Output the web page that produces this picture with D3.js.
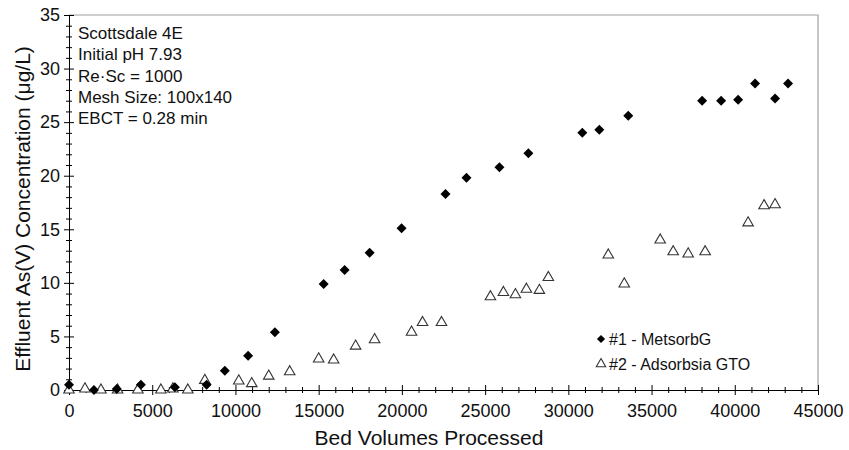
<!DOCTYPE html>
<html>
<head>
<meta charset="utf-8">
<script src="https://cdn.jsdelivr.net/npm/d3@7"></script>
<style>
  body { margin: 0; background: #fff; }
  svg { font-family: "Liberation Sans", Arial, sans-serif; }
  .axis path, .axis line { stroke: #000; }
  .axis text { font-size: 18px; fill: #111; }
</style>
</head>
<body>
<svg id="chart" width="849" height="450"></svg>
<script>
// MetsorbG (#1)
const metsorbX = [0, 1500, 2870, 4320, 6360, 8270, 9360, 10760, 12370, 15300, 16560, 18060, 19980, 22620, 23880, 25860, 27600, 30840, 31860, 33600, 38040, 39180, 40200, 41220, 42420, 43200];
const metsorbY = [0.5, 0.0, 0.1, 0.5, 0.25, 0.5, 1.8, 3.2, 5.4, 9.9, 11.2, 12.8, 15.1, 18.3, 19.8, 20.8, 22.1, 24.0, 24.3, 25.6, 27.0, 27.0, 27.1, 28.6, 27.2, 28.6];
// Adsorbsia GTO (#2)
const adsorbX = [0, 960, 1920, 2920, 4140, 5520, 6240, 7140, 8160, 10200, 10980, 12000, 13260, 15000, 15900, 17220, 18360, 20580, 21240, 22380, 25320, 26100, 26820, 27480, 28260, 28800, 32400, 33360, 35520, 36300, 37200, 38220, 40800, 41760, 42420];
const adsorbY = [0.0, 0.1, 0.0, 0.0, 0.0, 0.0, 0.1, 0.0, 0.9, 0.85, 0.6, 1.3, 1.7, 2.9, 2.8, 4.1, 4.7, 5.4, 6.3, 6.3, 8.7, 9.1, 8.9, 9.4, 9.3, 10.5, 12.6, 9.9, 14.0, 12.9, 12.7, 12.9, 15.6, 17.2, 17.3];

const xMajor = d3.range(0, 45001, 5000);
const xMinor = d3.range(0, 45001, 1000).filter(v => v % 5000 !== 0);
const yMajor = d3.range(0, 36, 5);
const yMinor = d3.range(0, 36, 1).filter(v => v % 5 !== 0);

const notes = ["Scottsdale 4E", "Initial pH 7.93", "Re\u00b7Sc = 1000", "Mesh Size: 100x140", "EBCT = 0.28 min"];
const legendLabels = ["#1 - MetsorbG", "#2 - Adsorbsia GTO"];

const svg = d3.select("#chart");
const margin = { top: 15, left: 69, right: 31, bottom: 60 };
const width = 849, height = 450;
const plotRight = width - margin.right;
const plotBottom = height - margin.bottom;

const x = d3.scaleLinear().domain([0, 45000]).range([margin.left, plotRight]);
const y = d3.scaleLinear().domain([0, 35]).range([plotBottom, margin.top]);

// gray frame top/right
svg.append("path")
    .attr("d", `M${x(0)},${y(35)}H${x(45000)}V${y(0)}`)
    .attr("fill", "none")
    .attr("stroke", "#a0a0a0")
    .attr("stroke-width", 1.2);

// x axis: ticks crossing the line
function xAxisLayer(axis) {
    svg.append("g").attr("class", "axis")
        .attr("transform", `translate(0,${y(0)})`)
        .call(axis);
}
xAxisLayer(d3.axisBottom(x).tickValues(xMajor).tickSize(5).tickSizeOuter(0).tickPadding(9).tickFormat(d3.format("d")));
xAxisLayer(d3.axisTop(x).tickValues(xMajor).tickSize(5).tickSizeOuter(0).tickFormat(""));
xAxisLayer(d3.axisBottom(x).tickValues(xMinor).tickSize(3).tickSizeOuter(0).tickFormat(""));
xAxisLayer(d3.axisTop(x).tickValues(xMinor).tickSize(3).tickSizeOuter(0).tickFormat(""));

function yAxisLayer(axis) {
    svg.append("g").attr("class", "axis")
        .attr("transform", `translate(${x(0)},0)`)
        .call(axis);
}
yAxisLayer(d3.axisLeft(y).tickValues(yMajor).tickSize(5).tickSizeOuter(0).tickPadding(4));
yAxisLayer(d3.axisRight(y).tickValues(yMajor).tickSize(5).tickSizeOuter(0).tickFormat(""));
yAxisLayer(d3.axisLeft(y).tickValues(yMinor).tickSize(3).tickSizeOuter(0).tickFormat(""));
yAxisLayer(d3.axisRight(y).tickValues(yMinor).tickSize(3).tickSizeOuter(0).tickFormat(""));

// axis titles
svg.append("text")
    .attr("x", 429).attr("y", 445)
    .attr("text-anchor", "middle")
    .attr("font-size", 21).attr("fill", "#111")
    .text("Bed Volumes Processed");

svg.append("text")
    .attr("transform", `translate(30,209) rotate(-90)`)
    .attr("text-anchor", "middle")
    .attr("font-size", 21).attr("fill", "#111")
    .text("Effluent As(V) Concentration (\u03bcg/L)");

// annotation
svg.append("g").selectAll("text")
    .data(notes)
    .join("text")
    .attr("x", 78)
    .attr("y", (d, i) => 39 + i * 21.3)
    .attr("font-size", 17).attr("fill", "#111")
    .text(d => d);

const diamond = d3.symbol().type(d3.symbolSquare).size(50);
const triangle = d3.symbol().type(d3.symbolTriangle).size(48);

const metsorb = metsorbX.map((v, i) => ({ x: v, y: metsorbY[i] }));
const adsorb = adsorbX.map((v, i) => ({ x: v, y: adsorbY[i] }));

svg.append("g").selectAll("path")
    .data(adsorb)
    .join("path")
    .attr("d", triangle)
    .attr("transform", d => `translate(${x(d.x)},${y(d.y)})`)
    .attr("fill", "#fff")
    .attr("stroke", "#333")
    .attr("stroke-width", 1.1);

svg.append("g").selectAll("path")
    .data(metsorb)
    .join("path")
    .attr("d", diamond)
    .attr("transform", d => `translate(${x(d.x)},${y(d.y)}) rotate(45)`)
    .attr("fill", "#000");

// legend
const legend = svg.append("g").attr("transform", "translate(601,339)");
legend.append("path")
    .attr("d", d3.symbol().type(d3.symbolSquare).size(34))
    .attr("transform", "rotate(45)")
    .attr("fill", "#000");
legend.append("path")
    .attr("d", d3.symbol().type(d3.symbolTriangle).size(38))
    .attr("transform", "translate(0,25)")
    .attr("fill", "#fff").attr("stroke", "#333").attr("stroke-width", 1.1);
legend.selectAll("text")
    .data(legendLabels)
    .join("text")
    .attr("x", 8)
    .attr("y", (d, i) => 6 + i * 25)
    .attr("font-size", 16).attr("fill", "#111")
    .text(d => d);
</script>
</body>
</html>
